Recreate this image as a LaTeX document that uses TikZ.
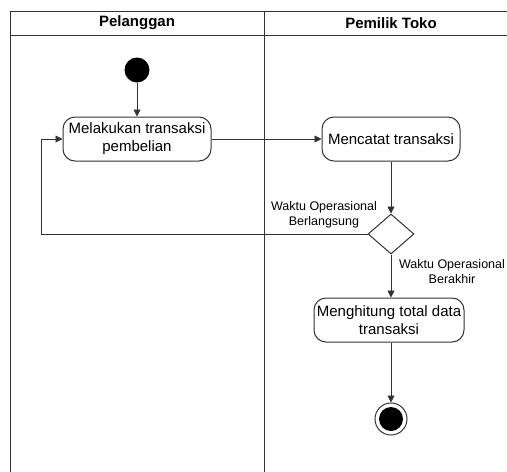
\documentclass[tikz,border=0pt]{standalone}
\usepackage{fontspec}
\setmainfont{Liberation Sans}
\usetikzlibrary{arrows.meta,shapes.geometric}
\definecolor{ln}{HTML}{333333}
\tikzset{
  act/.style={draw=ln, line width=1pt, rounded corners=12pt, align=center, font=\fontsize{15}{18}\selectfont, inner sep=0pt, minimum height=44pt},
  flow/.style={draw=ln, line width=0.9pt, -{Triangle[length=7pt,width=7pt]}},
  lbl/.style={align=center, font=\fontsize{12.5}{15}\selectfont, inner sep=0pt},
  lane/.style={draw=ln, line width=1pt}
}
\begin{document}
\begin{tikzpicture}[x=1pt,y=-1pt]
\useasboundingbox (0,0) rectangle (507,472);
% swimlanes
\draw[lane] (507,11) -- (10,11) -- (10,472);
\draw[lane] (10,35) -- (507,35);
\draw[lane] (264,11) -- (264,472);
\node[font=\bfseries\fontsize{15}{18}\selectfont] (h1) at (137,23) {Pelanggan};
\node[font=\bfseries\fontsize{15}{18}\selectfont] (h2) at (391,23) {Pemilik Toko};
% nodes
\node[circle, fill=black, minimum size=25pt, inner sep=0pt] (start) at (137,70) {};
\node[act, minimum width=148pt] (a1) at (137,139) {Melakukan transaksi\\pembelian};
\node[act, minimum width=138pt] (a2) at (391,139) {Mencatat transaksi};
\node[diamond, draw=ln, line width=1pt, minimum width=46pt, minimum height=40pt, inner sep=0pt] (dec) at (391,234) {};
\node[act, minimum width=150pt] (a3) at (389,320) {Menghitung total data\\transaksi};
\node[circle, draw=ln, line width=1pt, minimum size=32pt, inner sep=0pt] (endo) at (391,419) {};
\node[circle, fill=black, minimum size=24pt, inner sep=0pt] (endi) at (391,419) {};
\coordinate (lp) at (41,234);
% labels
\node[lbl] (l1) at (324,214.5) {Waktu Operasional\\Berlangsung};
\node[lbl] (l2) at (452,271.5) {Waktu Operasional\\Berakhir};
% connectors
\draw[flow] (start) -- (start |- a1.north);
\draw[flow] (a1.east) -- (a2.west);
\draw[flow] (a2.south) -- (dec.north);
\draw[flow] (dec.west) -- (lp) |- (a1.west);
\draw[flow] (dec.south) -- (dec.south |- a3.north);
\draw[flow] (dec.south |- a3.south) -- (endo.north);
\end{tikzpicture}
\end{document}
